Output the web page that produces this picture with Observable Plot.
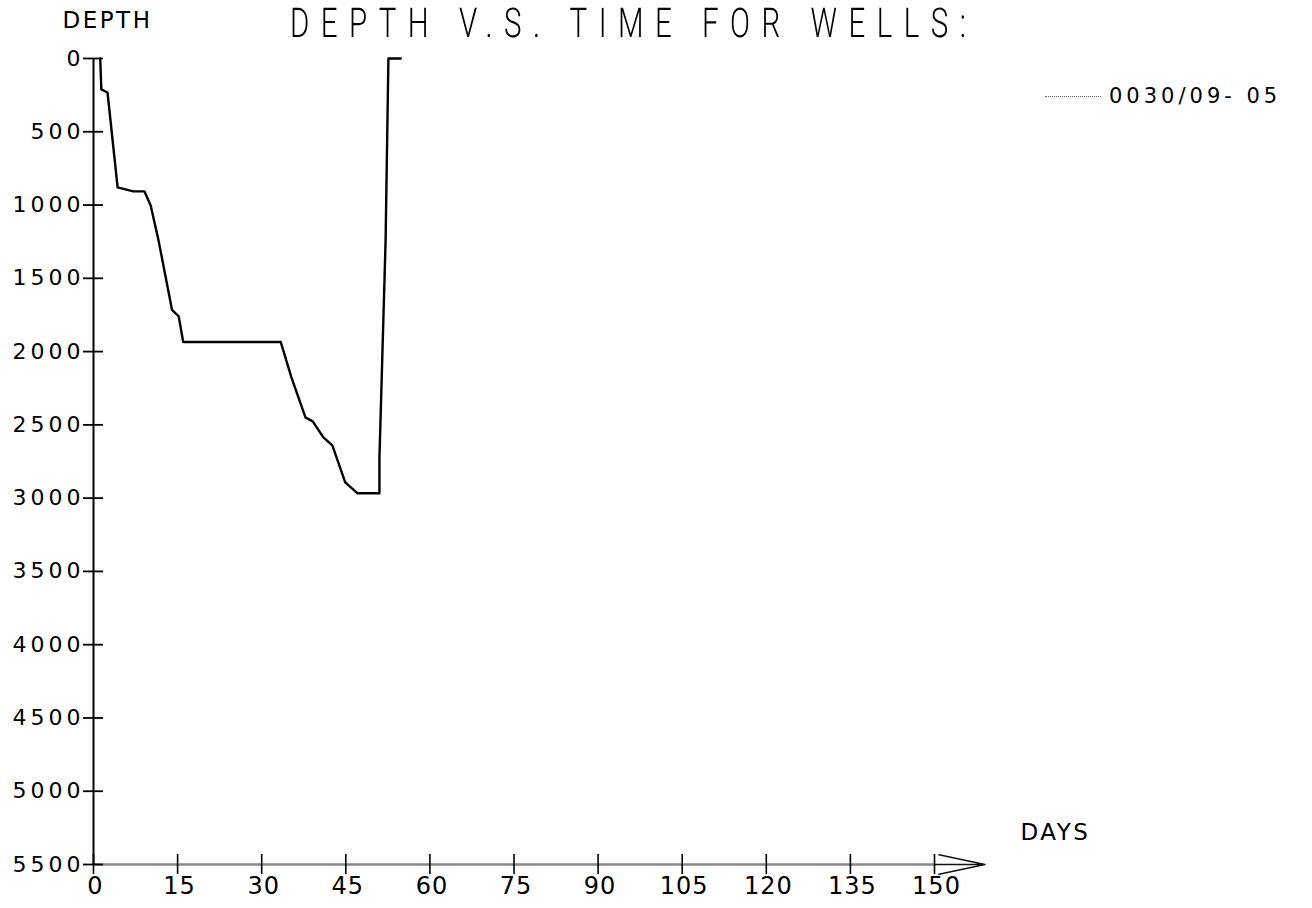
<!DOCTYPE html>
<html><head><meta charset="utf-8">
<script src="https://cdn.jsdelivr.net/npm/d3@7"></script>
<script src="https://cdn.jsdelivr.net/npm/@observablehq/plot@0.6"></script>
<style>
body{margin:0;background:#fff;}
#wrap{position:relative;width:1312px;height:908px;overflow:hidden;font-family:"DejaVu Sans",sans-serif;background:#fff;}
svg.chart g[aria-label="y-axis tick label"] text{letter-spacing:4px;}
svg.chart g[aria-label="x-axis tick label"] text{letter-spacing:1px;}
svg.chart g[aria-label="text"] text{letter-spacing:2.5px;}
#title{position:absolute;left:0;top:0;will-change:transform;}
#legend{position:absolute;left:1045px;top:84px;display:flex;align-items:center;font-size:21px;letter-spacing:4px;color:#000;}
#legend .sw{width:56px;height:0;border-top:1.5px dotted #666;margin-right:8px;}
</style></head><body><div id="wrap"></div>
<script>
// ---- data ----
const days   = [1.2, 1.4, 2.5, 4.3, 7.1, 9.1, 10.2, 11.6, 14.0, 15.2, 16.0, 33.4, 35.3, 37.8, 39.1, 41.0, 42.6, 44.9, 47.1, 51.0, 51.0, 52.1, 52.6, 54.8];
const depths = [0,   211, 232, 880, 907, 907, 1003, 1241, 1715, 1760, 1935, 1935, 2176, 2449, 2476, 2585, 2640, 2892, 2967, 2967, 2725, 1241, 0,    0];
const xTicks = [0, 15, 30, 45, 60, 75, 90, 105, 120, 135, 150];
const yTicks = [0, 500, 1000, 1500, 2000, 2500, 3000, 3500, 4000, 4500, 5000, 5500];
const xAxisEnd = 159;
const seriesName = "0030/09- 05";
const titleText = "DEPTH V.S. TIME FOR WELLS:";
const yLabel = "DEPTH";
const xLabel = "DAYS";

const data = days.map((d, i) => ({day: d, depth: depths[i]}));
const W = 1312, H = 908, mL = 93, mT = 58, mR = 378, mB = 44;
const frameW = W - mL - mR, frameH = H - mT - mB;

const chart = Plot.plot({
  width: W, height: H,
  marginLeft: mL, marginTop: mT, marginRight: mR, marginBottom: mB,
  style: {fontFamily: "DejaVu Sans, sans-serif", fontSize: "21px", color: "#000", background: "#fff", overflow: "visible"},
  x: {domain: [0, 150]},
  y: {domain: [0, 5500], reverse: true},
  marks: [
    Plot.axisY(yTicks, {tickSize: 0, tickPadding: 9, label: null, fontSize: 22, tickFormat: d => String(d)}),
    Plot.axisX(xTicks, {tickSize: 0, tickPadding: 12, label: null, fontSize: 24, dx: 2, tickFormat: d => String(d)}),
    Plot.arrow([{x1: 0, x2: xAxisEnd, y: 5500}], {x1: "x1", x2: "x2", y1: "y", y2: "y", stroke: "#111", strokeWidth: 1.5, headLength: 47, headAngle: 24}),
    Plot.ruleY([5500], {x1: 0, x2: 150, stroke: "#8a8a8a", strokeWidth: 2}),
    Plot.ruleX([0], {y1: 0, y2: 5500, stroke: "#000", strokeWidth: 2}),
    Plot.tickX(xTicks, {x: d => d, stroke: "#000", strokeWidth: 1.6, insetTop: frameH - 10, insetBottom: -10}),
    Plot.tickY(yTicks, {y: d => d, stroke: "#000", strokeWidth: 1.8, insetLeft: -10, insetRight: frameW - 10}),
    Plot.line(data, {x: "day", y: "depth", stroke: "#000", strokeWidth: 2.4, strokeLinejoin: "round"}),
    Plot.text([yLabel], {frameAnchor: "top-left", dx: -31, dy: -38, textAnchor: "start", lineAnchor: "middle", fontSize: 23}),
    Plot.text([xLabel], {frameAnchor: "bottom-right", dx: 86, dy: -32, textAnchor: "start", lineAnchor: "middle", fontSize: 23})
  ]
});
chart.classList.add("chart");
const wrap = document.getElementById("wrap");
wrap.appendChild(chart);

// title (plotter-style thin, narrow lettering)
const NS = "http://www.w3.org/2000/svg";
const tsvg = document.createElementNS(NS, "svg");
tsvg.setAttribute("id", "title");
tsvg.setAttribute("width", W); tsvg.setAttribute("height", 60);
const sx = 0.72;
const g = document.createElementNS(NS, "g");
g.setAttribute("transform", `scale(${sx},1)`);
const tt = document.createElementNS(NS, "text");
tt.setAttribute("x", 290 / sx); tt.setAttribute("y", 37);
tt.setAttribute("textLength", 676 / sx);
tt.setAttribute("lengthAdjust", "spacing");
tt.setAttribute("font-family", "Roboto, 'DejaVu Sans', sans-serif");
tt.setAttribute("font-weight", "300");
tt.setAttribute("font-size", "41");
tt.setAttribute("fill", "#000");
tt.setAttribute("text-rendering", "geometricPrecision");
tt.textContent = titleText;
g.appendChild(tt);
tsvg.appendChild(g);
wrap.appendChild(tsvg);

// legend
const lg = document.createElement("div");
lg.id = "legend";
const sw = document.createElement("span"); sw.className = "sw";
const lt = document.createElement("span"); lt.textContent = seriesName;
lg.appendChild(sw); lg.appendChild(lt);
wrap.appendChild(lg);
</script></body></html>
